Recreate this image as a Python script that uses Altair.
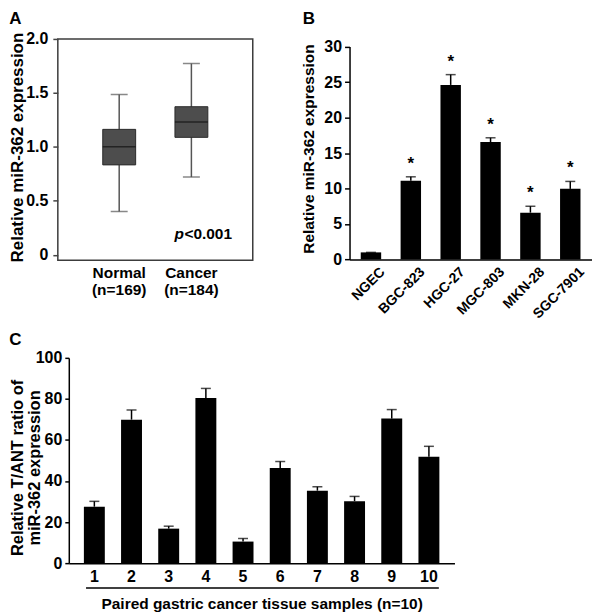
import altair as alt
import pandas as pd

FONT = "Liberation Sans, Arial, Helvetica, sans-serif"

# ---------------- data ----------------
# Panel A: box plot summary values
groups = ["Normal|(n=169)", "Cancer|(n=184)"]
box_lower = [0.40, 0.72]
box_q1 = [0.833, 1.088]
box_median = [1.0, 1.23]
box_q3 = [1.162, 1.372]
box_upper = [1.485, 1.772]
a_ticks = [0, 0.5, 1.0, 1.5, 2.0]

# Panel B: cell lines
cell_lines = ["NGEC", "BGC-823", "HGC-27", "MGC-803", "MKN-28", "SGC-7901"]
b_values = [1.0, 11.1, 24.6, 16.55, 6.6, 9.95]
b_errors = [0.0, 0.55, 1.45, 0.6, 0.9, 1.05]
b_marks = ["", "*", "*", "*", "*", "*"]
b_ticks = [0, 5, 10, 15, 20, 25, 30]

# Panel C: paired tissue samples
samples = ["1", "2", "3", "4", "5", "6", "7", "8", "9", "10"]
c_values = [27.5, 69.9, 16.8, 80.4, 10.5, 46.4, 35.3, 30.2, 70.4, 51.8]
c_errors = [2.6, 4.7, 1.2, 4.7, 1.5, 3.1, 1.9, 2.3, 4.4, 5.1]
c_ticks = [0, 20, 40, 60, 80, 100]

dfA = pd.DataFrame({"group": groups, "lower": box_lower, "q1": box_q1,
                    "median": box_median, "q3": box_q3, "upper": box_upper})
dfB = pd.DataFrame({"line": cell_lines, "value": b_values, "err": b_errors, "mark": b_marks})
dfC = pd.DataFrame({"sample": samples, "value": c_values, "err": c_errors})
one = pd.DataFrame({"k": [0]})

# ---------------- panel A ----------------
A_W, A_H = 195.6, 222
xA = alt.X("group:N", sort=groups,
           scale=alt.Scale(paddingInner=0.5, paddingOuter=0.6),
           axis=alt.Axis(title=None, labelExpr="split(datum.label, '|')", labelAngle=0,
                         labelFontSize=15.5, labelLineHeight=17, labelPadding=5,
                         labelBaseline="top", ticks=False, tickSize=0, domain=False))
yA_scale = alt.Scale(domain=[-0.05, 2.0], nice=False, zero=False)
yA_axis = alt.Axis(values=a_ticks,
                   labelExpr="datum.value == 0 ? '0' : format(datum.value, '.1f')",
                   title="Relative miR-362 expression", titleFontSize=17,
                   titleX=-40, titleY=108.5, titleAngle=270, titleAlign="center",
                   titleBaseline="middle", domain=False, tickSize=5, tickWidth=1.5,
                   tickColor="#444444", labelFontSize=16, labelPadding=5)

def yA(field):
    return alt.Y(field, scale=yA_scale, axis=yA_axis)

whisk = alt.Chart(dfA).mark_rule(color="#555555", strokeWidth=1.5).encode(
    x=xA, y=yA("lower:Q"), y2="upper:Q")
cap_lo = alt.Chart(dfA).mark_tick(size=17, thickness=1.5, color="#555555").encode(
    x=xA, y=yA("lower:Q"))
cap_hi = alt.Chart(dfA).mark_tick(size=17, thickness=1.5, color="#555555").encode(
    x=xA, y=yA("upper:Q"))
box = alt.Chart(dfA).mark_bar(size=33, color="#4d4d4d", stroke="#2b2b2b", strokeWidth=1).encode(
    x=xA, y=yA("q1:Q"), y2="q3:Q")
med = alt.Chart(dfA).mark_tick(size=33, thickness=1.5, color="#111111").encode(
    x=xA, y=yA("median:Q"))
p_it = alt.Chart(one).mark_text(text="p", font=FONT, fontSize=15.5, fontWeight="bold",
                                fontStyle="italic", align="right", baseline="alphabetic").encode(
    x=alt.value(126.5), y=alt.value(201))
p_val = alt.Chart(one).mark_text(text="<0.001", font=FONT, fontSize=15.5, fontWeight="bold",
                                 align="left", baseline="alphabetic").encode(
    x=alt.value(127), y=alt.value(201))
let_a = alt.Chart(one).mark_text(text="A", font=FONT, fontSize=17, fontWeight="bold",
                                 align="left", baseline="top").encode(
    x=alt.value(-48.7), y=alt.value(-28))

A = alt.layer(whisk, cap_lo, cap_hi, box, med, p_it, p_val, let_a).properties(
    width=A_W, height=A_H,
    view=alt.ViewBackground(stroke="#3c3c3c", strokeWidth=1.5))

# ---------------- panel B ----------------
B_W, B_H = 243, 221.3
xB = alt.X("line:N", sort=cell_lines,
           scale=alt.Scale(paddingInner=0.49, paddingOuter=0.2825),
           axis=alt.Axis(title=None, labelAngle=315, labelAlign="right", labelBaseline="middle",
                         labelOffset=12, labelPadding=10, labelFontSize=14,
                         ticks=False, tickSize=0, domainWidth=1.5))
yB_scale = alt.Scale(domain=[0, 30], range=[B_H, 7.7], nice=False)
yB_axis = alt.Axis(values=b_ticks, title="Relative miR-362 expression", titleFontSize=15.5,
                   titleX=-41, titleY=110, titleAngle=270, titleAlign="center",
                   titleBaseline="middle", domainWidth=1.5, tickSize=5, tickWidth=1.5,
                   labelFontSize=16, labelPadding=3)

def yB(field):
    return alt.Y(field, scale=yB_scale, axis=yB_axis)

baseB = alt.Chart(dfB).transform_calculate(top="datum.value + datum.err")
bars_b = baseB.mark_bar(size=20.5, color="black").encode(x=xB, y=yB("value:Q"))
err_b = baseB.mark_rule(color="black", strokeWidth=1.5).encode(x=xB, y=yB("value:Q"), y2="top:Q")
cap_b = baseB.mark_tick(size=10, thickness=1.5, color="black").encode(x=xB, y=yB("top:Q"))
star_b = baseB.mark_text(font=FONT, fontSize=17, fontWeight="bold", baseline="alphabetic",
                         dy=-8).encode(x=xB, y=yB("top:Q"), text="mark:N")
let_b = alt.Chart(one).mark_text(text="B", font=FONT, fontSize=17, fontWeight="bold",
                                 align="left", baseline="top").encode(
    x=alt.value(-47), y=alt.value(-28))

B = alt.layer(err_b, cap_b, bars_b, star_b, let_b).properties(width=B_W, height=B_H)

# ---------------- panel C ----------------
C_W, C_H = 398, 206
xC = alt.X("sample:N", sort=samples,
           scale=alt.Scale(range=[11, C_W], paddingInner=0.44, paddingOuter=0.4075),
           axis=alt.Axis(title="Paired gastric cancer tissue samples (n=10)", titleFontSize=15.5,
                         titleY=41, titleBaseline="middle", labelAngle=0, labelFontSize=16,
                         labelPadding=5, ticks=False, tickSize=0, domainWidth=1.5))
yC_scale = alt.Scale(domain=[0, 100], nice=False)
yC_axis = alt.Axis(values=c_ticks, offset=-11,
                   title=["Relative T/ANT ratio of", "miR-362 expression"], titleFontSize=16.5,
                   titleLineHeight=16.5, titleX=-51, titleY=110, titleAngle=270,
                   titleAlign="center", titleBaseline="middle", domainWidth=1.5,
                   tickSize=4, tickWidth=1.5, labelFontSize=16, labelPadding=3)

def yC(field):
    return alt.Y(field, scale=yC_scale, axis=yC_axis)

baseC = alt.Chart(dfC).transform_calculate(top="datum.value + datum.err")
bars_c = baseC.mark_bar(size=21, color="black").encode(x=xC, y=yC("value:Q"))
err_c = baseC.mark_rule(color="black", strokeWidth=1.5).encode(x=xC, y=yC("value:Q"), y2="top:Q")
cap_c = baseC.mark_tick(size=10, thickness=1.5, color="black").encode(x=xC, y=yC("top:Q"))
under_c = alt.Chart(one).mark_rule(color="black", strokeWidth=1.5).encode(
    x=alt.value(28.3), x2=alt.value(382.3), y=alt.value(231))
let_c = alt.Chart(one).mark_text(text="C", font=FONT, fontSize=17, fontWeight="bold",
                                 align="left", baseline="top").encode(
    x=alt.value(-48.7), y=alt.value(-26))

C = alt.layer(err_c, cap_c, bars_c, under_c, let_c).properties(width=C_W, height=C_H)

# flush bounds: the nested row counts as zero height, so the spacing carries the row height
top_row = alt.hconcat(A, B, spacing=96.7, bounds="flush")
chart = alt.vconcat(
    top_row, C, spacing=A_H + 98, bounds="flush", padding=0,
).configure_view(strokeWidth=0).configure_axis(
    labelFont=FONT, titleFont=FONT, labelFontWeight="bold", titleFontWeight="bold",
    labelColor="black", titleColor="black", grid=False,
    domainColor="black", tickColor="black")

chart.save("out.html", embed_options={"renderer": "svg", "actions": False})
